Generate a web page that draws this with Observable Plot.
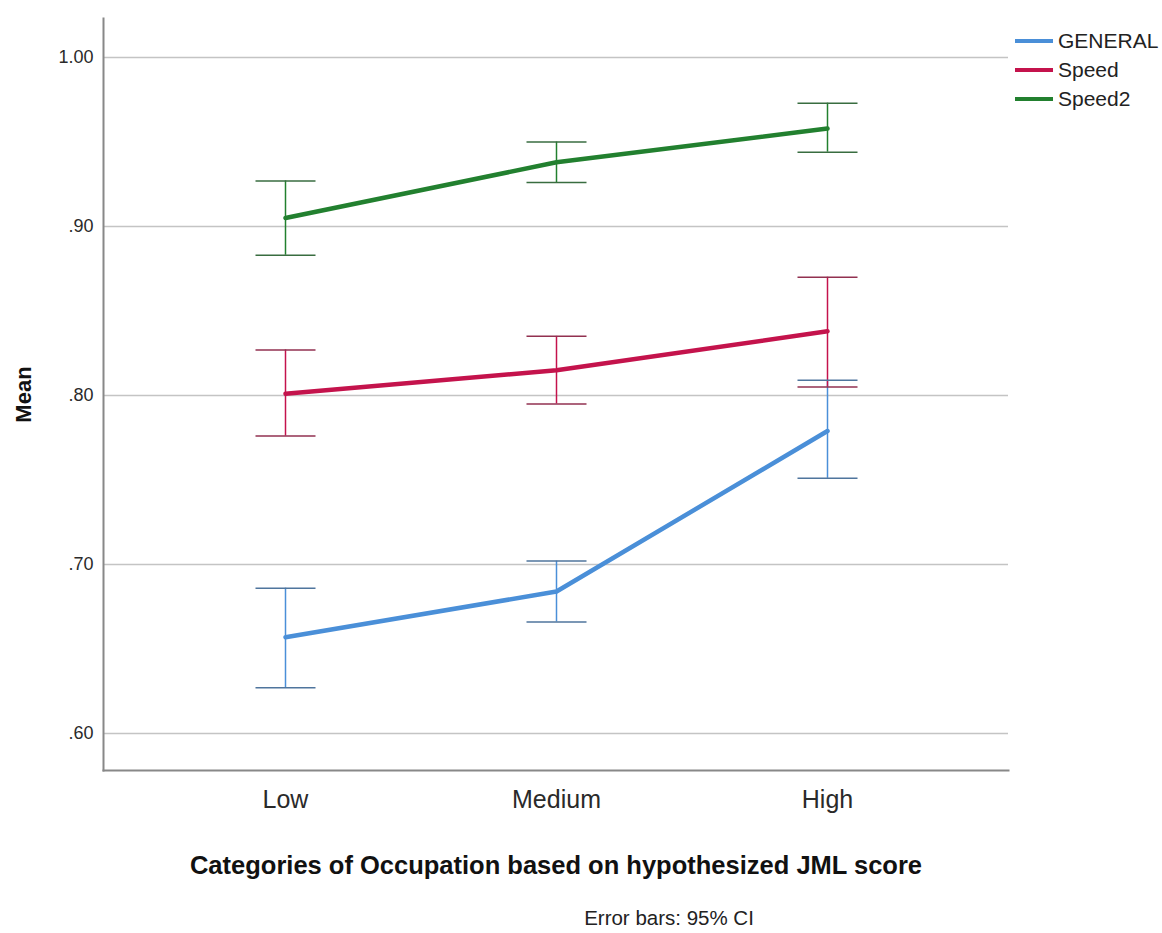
<!DOCTYPE html>
<html>
<head>
<meta charset="utf-8">
<script src="https://cdn.jsdelivr.net/npm/d3@7"></script>
<script src="https://cdn.jsdelivr.net/npm/@observablehq/plot@0.6"></script>
<style>
  html, body { margin: 0; padding: 0; background: #fff; }
  body { font-family: "Liberation Sans", Arial, sans-serif; }
  #wrap { position: relative; width: 1162px; height: 933px; overflow: hidden; }
  #chart svg { display: block; }
  g[aria-label="x-axis label"] { font-size: 25.5px; font-weight: bold; fill: #111; }
  g[aria-label="y-axis label"] { font-size: 22px; font-weight: bold; fill: #111; }
  #legend { position: absolute; left: 1015px; top: 26px; font-size: 21px; color: #222; }
  #legend .item { display: flex; align-items: center; height: 29px; }
  #legend .sw { width: 38px; height: 4px; margin-right: 5px; }
  #caption { position: absolute; left: 519px; width: 300px; top: 906px; text-align: center; font-size: 20.5px; color: #222; }
</style>
</head>
<body>
<div id="wrap">
  <div id="chart"></div>
  <div id="legend"></div>
  <div id="caption">Error bars: 95% CI</div>
</div>
<script>
const categories = ["Low", "Medium", "High"];
const seriesNames = ["GENERAL", "Speed", "Speed2"];
const seriesColors = ["#4a8fd8", "#c4134c", "#22802f"];

const generalMean = [0.657, 0.684, 0.779];
const generalLo   = [0.627, 0.666, 0.751];
const generalHi   = [0.686, 0.702, 0.809];

const speedMean = [0.801, 0.815, 0.838];
const speedLo   = [0.776, 0.795, 0.805];
const speedHi   = [0.827, 0.835, 0.870];

const speed2Mean = [0.905, 0.938, 0.958];
const speed2Lo   = [0.883, 0.926, 0.944];
const speed2Hi   = [0.927, 0.950, 0.973];

const yTicks = [0.6, 0.7, 0.8, 0.9, 1.0];
const yTickLabels = [".60", ".70", ".80", ".90", "1.00"];

const xTitle = "Categories of Occupation based on hypothesized JML score";
const yTitle = "Mean";

const means = [generalMean, speedMean, speed2Mean];
const los = [generalLo, speedLo, speed2Lo];
const his = [generalHi, speedHi, speed2Hi];

const rows = [];
seriesNames.forEach((s, si) => {
  categories.forEach((c, ci) => {
    rows.push({series: s, cat: c, mean: means[si][ci], lo: los[si][ci], hi: his[si][ci]});
  });
});

const capColor = {};
seriesNames.forEach((s, i) => capColor[s] = d3.interpolateRgb(seriesColors[i], "#555")(0.45));

// horizontal cap symbol for error bars
const capSymbol = {
  draw(context) {
    context.moveTo(-30, 0);
    context.lineTo(30, 0);
  }
};

const plot = Plot.plot({
  width: 1162,
  height: 885,
  marginLeft: 103,
  marginRight: 154,
  marginTop: 18,
  marginBottom: 115,
  style: {fontFamily: "Liberation Sans, Arial, sans-serif", fontSize: "18px", color: "#2a2a2a", background: "#fff"},
  x: {type: "point", domain: categories, padding: 0.664},
  y: {domain: [0.5781, 1.0231]},
  color: {domain: seriesNames, range: seriesColors},
  marks: [
    Plot.ruleY(yTicks, {stroke: "#c4c4c4", strokeWidth: 1.5}),
    Plot.frame({anchor: "left", stroke: "#888", strokeWidth: 2}),
    Plot.frame({anchor: "bottom", stroke: "#888", strokeWidth: 2}),
    Plot.ruleX(rows, {x: "cat", y1: "lo", y2: "hi", stroke: "series", strokeWidth: 1.5}),
    Plot.dot(rows, {x: "cat", y: "lo", symbol: capSymbol, r: 5, fill: "none", stroke: d => capColor[d.series], strokeWidth: 1.5}),
    Plot.dot(rows, {x: "cat", y: "hi", symbol: capSymbol, r: 5, fill: "none", stroke: d => capColor[d.series], strokeWidth: 1.5}),
    Plot.line(rows, {x: "cat", y: "mean", z: "series", stroke: "series", strokeWidth: 4.5}),
    Plot.axisY(yTicks, {
      tickSize: 0, tickPadding: 10, fontSize: 18,
      tickFormat: (d, i) => yTickLabels[i],
      label: yTitle, labelAnchor: "center", labelArrow: "none", labelOffset: 88
    }),
    Plot.axisX(categories, {
      tickSize: 0, tickPadding: 20, fontSize: 25,
      label: xTitle, labelAnchor: "center", labelArrow: "none", labelOffset: 103
    })
  ]
});
document.getElementById("chart").appendChild(plot);

const legend = document.getElementById("legend");
seriesNames.forEach((s, i) => {
  const item = document.createElement("div");
  item.className = "item";
  const sw = document.createElement("div");
  sw.className = "sw";
  sw.style.background = seriesColors[i];
  const t = document.createElement("span");
  t.textContent = s;
  item.appendChild(sw);
  item.appendChild(t);
  legend.appendChild(item);
});
</script>
</body>
</html>
